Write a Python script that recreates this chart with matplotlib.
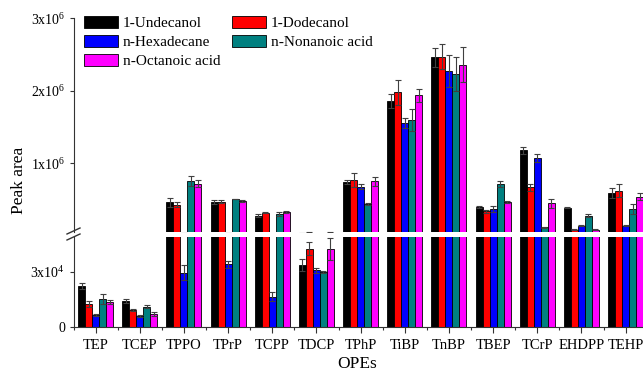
import numpy as np
import matplotlib
matplotlib.use("Agg")
import matplotlib.pyplot as plt
from matplotlib.patches import Patch
from matplotlib.lines import Line2D

plt.rcParams['font.family'] = ['Liberation Serif', 'DejaVu Serif']
plt.rcParams['mathtext.fontset'] = 'custom'
plt.rcParams['mathtext.rm'] = 'Liberation Serif'

# categories and series
opes = ['TEP', 'TCEP', 'TPPO', 'TPrP', 'TCPP', 'TDCP', 'TPhP',
        'TiBP', 'TnBP', 'TBEP', 'TCrP', 'EHDPP', 'TEHP']
names = ['1-Undecanol', '1-Dodecanol', 'n-Hexadecane', 'n-Nonanoic acid', 'n-Octanoic acid']
colors = ['#000000', '#FF0000', '#0000FF', '#008080', '#FF00FF']

undecanol = [2.22e4, 1.42e4, 4.6e5, 4.7e5, 2.76e5, 3.40e4, 7.45e5,
             1.86e6, 2.46e6, 3.96e5, 1.18e6, 3.90e5, 5.90e5]
undecanol_err = [0.15e4, 0.10e4, 0.6e5, 0.25e5, 0.2e5, 0.33e4, 0.3e5,
                 1.0e5, 1.3e5, 0.1e5, 0.5e5, 0.1e5, 0.7e5]
dodecanol = [1.24e4, 0.91e4, 4.3e5, 4.7e5, 3.18e5, 4.28e4, 7.7e5,
             1.98e6, 2.47e6, 3.36e5, 6.67e5, 8.3e4, 6.25e5]
dodecanol_err = [0.17e4, 0.05e4, 0.3e5, 0.2e5, 0.05e5, 0.36e4, 1.0e5,
                 1.7e5, 1.7e5, 0.2e5, 0.45e5, 0.05e5, 0.9e5]
hexadecane = [0.64e4, 0.60e4, 2.97e4, 3.42e4, 1.64e4, 3.09e4, 6.8e5,
              1.555e6, 2.27e6, 3.7e5, 1.07e6, 1.40e5, 1.40e5]
hexadecane_err = [0.05e4, 0.05e4, 0.4e4, 0.2e4, 0.25e4, 0.12e4, 0.4e5,
                  0.65e5, 2.2e5, 0.4e5, 0.55e5, 0.05e5, 0.05e5]
nonanoic = [1.51e4, 1.09e4, 7.6e5, 5.1e5, 3.0e5, 2.98e4, 4.4e5,
            1.60e6, 2.23e6, 7.2e5, 1.2e5, 2.80e5, 3.7e5]
nonanoic_err = [0.26e4, 0.08e4, 0.7e5, 0.05e5, 0.25e5, 0.05e4, 0.1e5,
                1.5e5, 2.3e5, 0.4e5, 0.05e5, 0.2e5, 0.7e5]
octanoic = [1.35e4, 0.69e4, 7.2e5, 4.8e5, 3.3e5, 4.24e4, 7.5e5,
            1.94e6, 2.36e6, 4.65e5, 4.5e5, 8.3e4, 5.4e5]
octanoic_err = [0.10e4, 0.10e4, 0.45e5, 0.2e5, 0.15e5, 0.6e4, 0.6e5,
                0.9e5, 2.4e5, 0.1e5, 0.65e5, 0.05e5, 0.5e5]

series = [undecanol, dodecanol, hexadecane, nonanoic, octanoic]
errors = [undecanol_err, dodecanol_err, hexadecane_err, nonanoic_err, octanoic_err]

fig = plt.figure(figsize=(6.43, 3.72), dpi=100)
W, H = 643.0, 372.0
left = 73.5 / W
width = (647.7 - 73.5) / W
ax_top = fig.add_axes([left, 1 - 231.5 / H, width, (231.5 - 18.3) / H])
ax_bot = fig.add_axes([left, 1 - 326.7 / H, width, (326.7 - 237.3) / H])

x = np.arange(len(opes))
bw = 0.158
for ax in (ax_top, ax_bot):
    for i in range(5):
        ax.bar(x + (i - 2) * bw, series[i], bw, yerr=errors[i], color=colors[i],
               edgecolor='black', linewidth=0.6,
               error_kw=dict(ecolor='#404040', elinewidth=0.8, capsize=2.5, capthick=0.8))
    ax.set_xlim(-0.5, len(opes) - 0.5)
    for s in ['top', 'right']:
        ax.spines[s].set_visible(False)
    ax.spines['left'].set_color('#333333')
    ax.spines['bottom'].set_color('#333333')
    ax.tick_params(axis='y', direction='out', length=3, width=0.8, pad=3,
                   labelsize=10, color='#333333')

ax_top.set_ylim(6e4, 3e6)
ax_top.set_yticks([1e6, 2e6, 3e6])
ax_top.set_yticklabels([r'$\mathregular{1x10^{6}}$', r'$\mathregular{2x10^{6}}$',
                        r'$\mathregular{3x10^{6}}$'])
ax_top.spines['bottom'].set_visible(False)
ax_top.set_xticks([])

ax_bot.set_ylim(0, 4.9e4)
ax_bot.set_yticks([0, 3e4])
ax_bot.set_yticklabels(['0', r'$\mathregular{3x10^{4}}$'])
ax_bot.set_xticks(x)
ax_bot.set_xticklabels(opes)
ax_bot.set_xticks(np.arange(len(opes) + 1) - 0.5, minor=True)
ax_bot.tick_params(axis='x', which='major', direction='out', length=4, width=0.8,
                   pad=5, labelsize=10.5, color='#333333')
ax_bot.tick_params(axis='x', which='minor', direction='out', length=2.5, width=0.8,
                   color='#333333')

# break marks on the y axis
for y0 in (234.0, 240.0):
    fig.add_artist(Line2D([67 / W, 80 / W], [1 - y0 / H, 1 - (y0 - 6) / H],
                          color='#333333', lw=1.0))

handles = [Patch(facecolor=colors[i], edgecolor='black', linewidth=0.6) for i in range(5)]
order = [0, 2, 4, 1, 3]
fig.legend([handles[i] for i in order], [names[i] for i in order], ncol=2,
           loc='upper left', bbox_to_anchor=(84 / W, 1 - 16 / H), frameon=False,
           fontsize=11, handlelength=2.2, handleheight=0.85, handletextpad=0.35,
           columnspacing=0.75, labelspacing=0.3, borderpad=0, borderaxespad=0)

fig.text(19 / W, 1 - 180 / H, 'Peak area', rotation=90, ha='center', va='center',
         fontsize=12.5)
fig.text(357 / W, 0.01, 'OPEs', ha='center', va='baseline', fontsize=12.5)

fig.savefig('out.png', dpi=100)
